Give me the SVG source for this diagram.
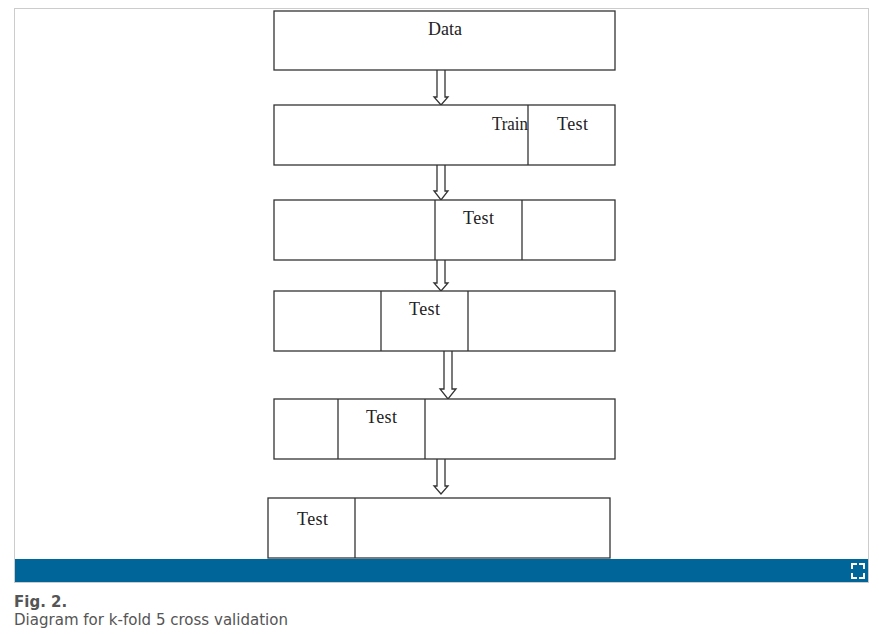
<svg xmlns="http://www.w3.org/2000/svg" width="879" height="634" viewBox="0 0 879 634">
<style>
.box{fill:#fff;stroke:#333;stroke-width:1.3}
.div{stroke:#333;stroke-width:1.3}
.arr{fill:#fff;stroke:#333;stroke-width:1.3;stroke-linejoin:miter}
.lbl{font-family:"Liberation Serif","Times New Roman",serif;font-size:18px;fill:#222}
.cap{font-family:"DejaVu Sans",Verdana,sans-serif;font-size:15px;fill:#555}
</style>
<rect x="0" y="0" width="879" height="634" fill="#fff"/>
<rect x="14.5" y="8.5" width="854" height="574" fill="#fff" stroke="#ccc" stroke-width="1"/>
<g id="connectors">
<path class="arr" d="M437,70 V97 H434 L441,105 L448,97 H445 V70"/>
<path class="arr" d="M437,165 V191 H434 L441,200 L448,191 H445 V165"/>
<path class="arr" d="M437,260 V283 H434 L441,291 L448,283 H445 V260"/>
<path class="arr" d="M444,351 V389 H440 L448,399 L456,389 H452 V351"/>
<path class="arr" d="M437,459 V486 H434 L441,494 L448,486 H445 V459"/>
</g>
<g id="data">
<rect class="box" x="274" y="11" width="341" height="59"/>
<text class="lbl" x="445" y="35" text-anchor="middle">Data</text>
</g>
<g id="fold1">
<rect class="box" x="274" y="105" width="341" height="60"/>
<line class="div" x1="528" y1="105" x2="528" y2="165"/>
<text class="lbl" x="492" y="130" textLength="36" lengthAdjust="spacingAndGlyphs">Train</text>
<text class="lbl" x="557" y="130" letter-spacing="0.4">Test</text>
</g>
<g id="fold2">
<rect class="box" x="274" y="200" width="341" height="60"/>
<line class="div" x1="435" y1="200" x2="435" y2="260"/>
<line class="div" x1="522" y1="200" x2="522" y2="260"/>
<text class="lbl" x="463" y="224" letter-spacing="0.4">Test</text>
</g>
<g id="fold3">
<rect class="box" x="274" y="291" width="341" height="60"/>
<line class="div" x1="381" y1="291" x2="381" y2="351"/>
<line class="div" x1="468" y1="291" x2="468" y2="351"/>
<text class="lbl" x="409" y="315" letter-spacing="0.4">Test</text>
</g>
<g id="fold4">
<rect class="box" x="274" y="399" width="341" height="60"/>
<line class="div" x1="338" y1="399" x2="338" y2="459"/>
<line class="div" x1="425" y1="399" x2="425" y2="459"/>
<text class="lbl" x="366" y="423" letter-spacing="0.4">Test</text>
</g>
<g id="fold5">
<rect class="box" x="268" y="498" width="342" height="60"/>
<line class="div" x1="355" y1="498" x2="355" y2="558"/>
<text class="lbl" x="297" y="525" letter-spacing="0.4">Test</text>
</g>
<rect x="15" y="559" width="853" height="23" fill="#006699"/>
<g fill="none" stroke="#fff" stroke-width="2">
<path d="M852,569 V564 H857"/>
<path d="M859,564 H864 V569"/>
<path d="M864,573 V578 H859"/>
<path d="M857,578 H852 V573"/>
</g>
<text class="cap" x="14" y="607" font-weight="bold">Fig. 2.</text>
<text class="cap" x="14" y="625" textLength="274" lengthAdjust="spacingAndGlyphs">Diagram for k-fold 5 cross validation</text>
</svg>
